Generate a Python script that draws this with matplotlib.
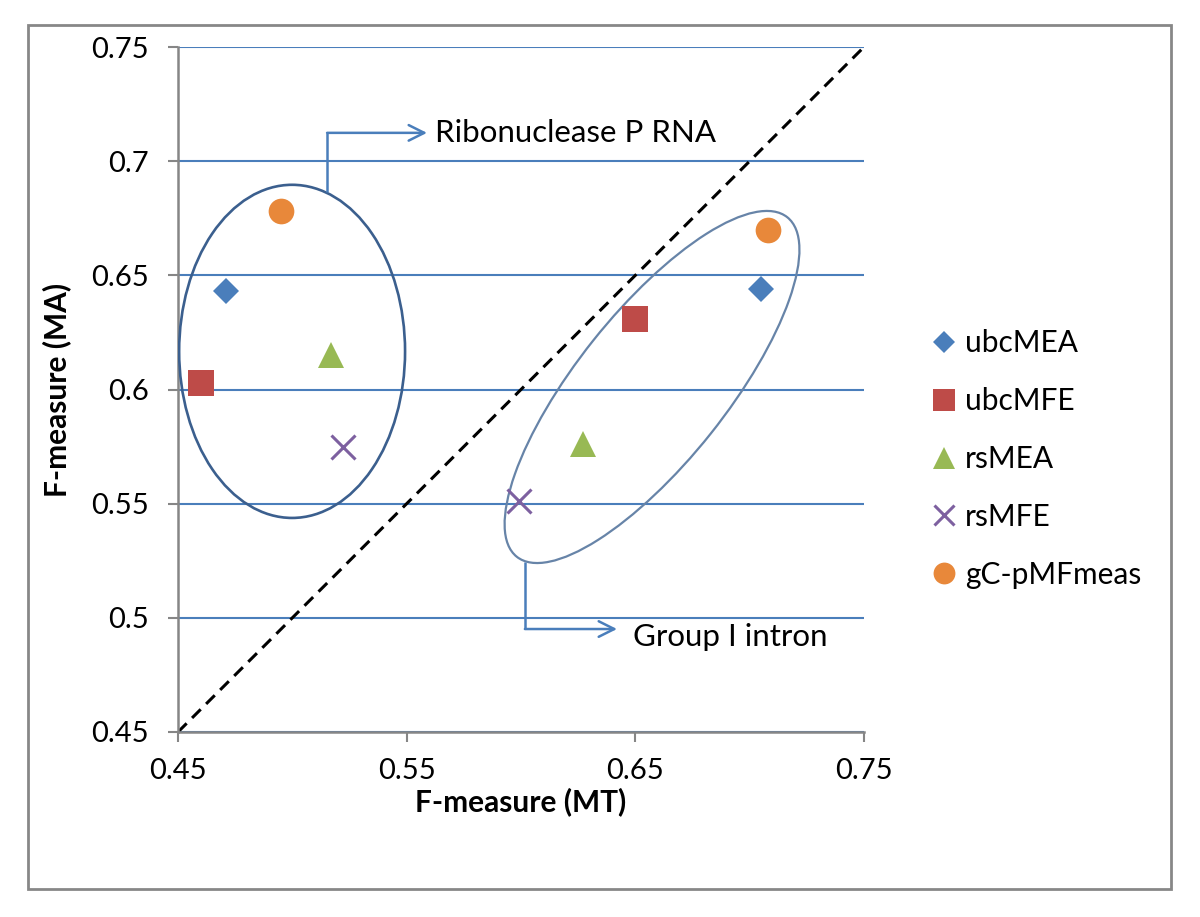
import matplotlib
matplotlib.use("Agg")
import matplotlib.pyplot as plt
from matplotlib.patches import Ellipse, Rectangle

plt.rcParams["font.family"] = ["Lato", "DejaVu Sans"]

# -----------------------------
# Data (first point: Ribonuclease P RNA, second: Group I intron)
# -----------------------------
series_names = ["ubcMEA", "ubcMFE", "rsMEA", "rsMFE", "gC-pMFmeas"]
ubcMEA_x = [0.471, 0.705]
ubcMEA_y = [0.643, 0.644]
ubcMFE_x = [0.460, 0.650]
ubcMFE_y = [0.603, 0.631]
rsMEA_x = [0.517, 0.627]
rsMEA_y = [0.615, 0.576]
rsMFE_x = [0.522, 0.599]
rsMFE_y = [0.575, 0.551]
gC_x = [0.495, 0.708]
gC_y = [0.678, 0.670]

x_ticks = [0.45, 0.55, 0.65, 0.75]
x_ticklabels = ["0.45", "0.55", "0.65", "0.75"]
y_ticks = [0.45, 0.5, 0.55, 0.6, 0.65, 0.7, 0.75]
y_ticklabels = ["0.45", "0.5", "0.55", "0.6", "0.65", "0.7", "0.75"]

# -----------------------------
# Styles
# -----------------------------
GRID = "#4A7EBB"
AXIS = "#868686"
FS = 21.5
styles = {
    "ubcMEA": dict(marker="D", color="#4A7EBB", ms=13.5),
    "ubcMFE": dict(marker="s", color="#BE4B48", ms=18.5),
    "rsMEA": dict(marker="^", color="#98B954", ms=18.5),
    "rsMFE": dict(marker="x", color="#7D60A0", ms=17.0),
    "gC-pMFmeas": dict(marker="o", color="#E8883A", ms=18.5),
}
series_x = [ubcMEA_x, ubcMFE_x, rsMEA_x, rsMFE_x, gC_x]
series_y = [ubcMEA_y, ubcMFE_y, rsMEA_y, rsMFE_y, gC_y]

fig = plt.figure(figsize=(12, 9.17), dpi=100)
ax = fig.add_axes([178 / 1200, 1 - 732 / 917, 686 / 1200, 685 / 917])

# outer chart border
fig.add_artist(Rectangle((28 / 1200, 1 - 889 / 917), 1143 / 1200, 864 / 917,
                         transform=fig.transFigure, fill=False, ec="#878787", lw=2))

# diagonal reference line
ax.plot([0.45, 0.75], [0.45, 0.75], color="black", lw=2.2,
        linestyle=(0, (4, 2.5)), zorder=2)

for name, xs, ys in zip(series_names, series_x, series_y):
    st = styles[name]
    if st["marker"] == "x":
        ax.plot(xs, ys, linestyle="none", marker="x", ms=st["ms"], color=st["color"],
                mew=2.2, label=name, zorder=4)
    else:
        ax.plot(xs, ys, linestyle="none", marker=st["marker"], ms=st["ms"],
                color=st["color"], mew=0, label=name, zorder=4)

# cluster ellipses
ax.add_patch(Ellipse((0.4999, 0.6167), 0.0988, 0.1459, fill=False,
                     ec="#3B5F8E", lw=1.9, zorder=3))
ax.add_patch(Ellipse((0.6573, 0.6011), 0.190, 0.0656, angle=51.5, fill=False,
                     ec="#6784A8", lw=1.6, zorder=3))

# callouts
ax.plot([0.5152, 0.5152], [0.6865, 0.7124], color=GRID, lw=1.8, zorder=3,
        solid_capstyle="butt")
ax.annotate("", xy=(0.5589, 0.7124), xytext=(0.5152, 0.7124),
            arrowprops=dict(arrowstyle="->", color=GRID, lw=1.8, mutation_scale=28,
                            shrinkA=0, shrinkB=0), zorder=3)
ax.text(0.5624, 0.7124, "Ribonuclease P RNA", fontsize=22.5, va="center", ha="left")

ax.plot([0.6017, 0.6017], [0.5245, 0.4951], color=GRID, lw=1.8, zorder=3,
        solid_capstyle="butt")
ax.annotate("", xy=(0.642, 0.4951), xytext=(0.6017, 0.4951),
            arrowprops=dict(arrowstyle="->", color=GRID, lw=1.8, mutation_scale=28,
                            shrinkA=0, shrinkB=0), zorder=3)
ax.text(0.649, 0.4916, "Group I intron", fontsize=22.5, va="center", ha="left")

# axes styling
ax.set_xlim(0.45, 0.75)
ax.set_ylim(0.45, 0.75)
ax.set_xticks(x_ticks)
ax.set_xticklabels(x_ticklabels)
ax.set_yticks(y_ticks)
ax.set_yticklabels(y_ticklabels)
ax.tick_params(axis="both", direction="out", length=7, width=1.5, color=AXIS,
               labelsize=21)
ax.tick_params(axis="y", pad=14)
ax.tick_params(axis="x", pad=12)
ax.yaxis.grid(True, color=GRID, lw=1.5)
ax.set_axisbelow(True)
for side in ["top", "right"]:
    ax.spines[side].set_visible(False)
for side in ["left", "bottom"]:
    ax.spines[side].set_color(AXIS)
    ax.spines[side].set_linewidth(1.8)

ax.set_xlabel("F-measure (MT)", fontsize=FS, fontweight="bold", labelpad=2)
ax.set_ylabel("F-measure (MA)", fontsize=FS, fontweight="bold", labelpad=14)

ax.legend(loc="center left", bbox_to_anchor=(932 / 1200, 1 - 459 / 917),
          bbox_transform=fig.transFigure, frameon=False, fontsize=FS,
          handlelength=0.8, handletextpad=0.3, labelspacing=1.0,
          markerscale=0.85, borderpad=0, borderaxespad=0)

fig.savefig("out.png", dpi=100)
